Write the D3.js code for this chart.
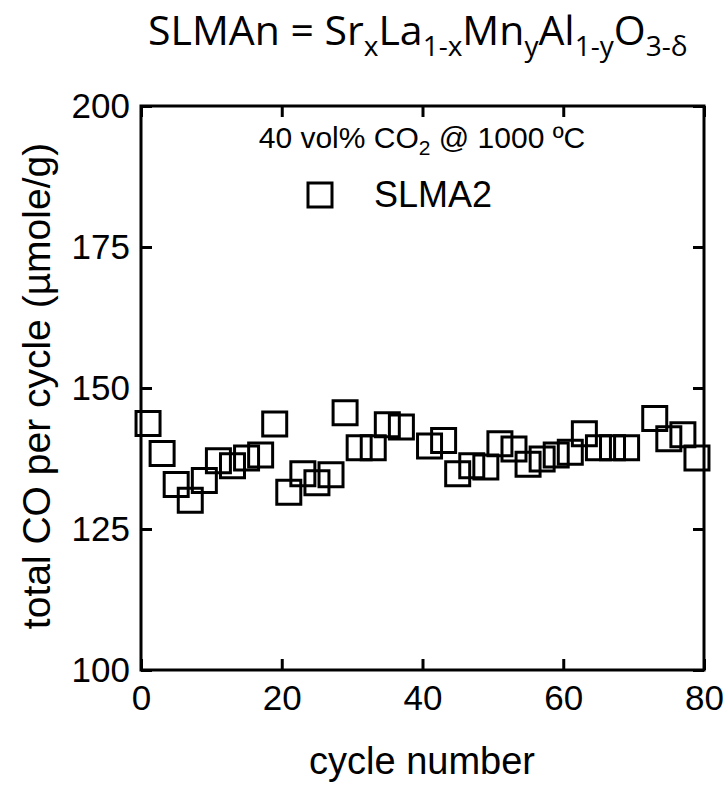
<!DOCTYPE html>
<html>
<head>
<meta charset="utf-8">
<script src="https://cdn.jsdelivr.net/npm/d3@7"></script>
<style>
  body { margin: 0; background: #fff; }
  text { fill: #000; }
</style>
</head>
<body>
<svg id="chart" width="725" height="786"></svg>
<script>
// cycle number vs total CO produced per cycle (umole/g), SLMA2
var cycles = [1, 3, 5, 7, 9, 11, 13, 15, 17, 19, 21, 23, 25, 27, 29, 31, 33, 35, 37,
              41, 43, 45, 47, 49, 51, 53, 55, 57, 59, 61, 63, 65, 67, 69, 73, 75, 77, 79];
var totalCO = [143.7, 138.4, 132.9, 130.1, 133.6, 137.1, 136.2, 137.6, 138.1, 143.6,
               131.5, 134.8, 133.2, 134.6, 145.6, 139.4, 139.4, 143.5, 143.1,
               139.7, 140.7, 134.8, 136.2, 136.0, 140.1, 139.2, 136.5, 137.4, 138.1,
               138.6, 141.9, 139.4, 139.4, 139.4, 144.6, 141.0, 141.7, 137.6];
var xTicks = [0, 20, 40, 60, 80];
var yTicks = [100, 125, 150, 175, 200];

var svg = d3.select("#chart");
// plot frame (window.top is read-only, so no bare "top" here)
var frame = { l: 141, r: 704, t: 106, b: 670 };

var x = d3.scaleLinear().domain([0, 80]).range([frame.l, frame.r]);
var y = d3.scaleLinear().domain([100, 200]).range([frame.b, frame.t]);

var arial = "'Liberation Sans', Arial, sans-serif";

// axes, ticks pointing inward on all four sides
function styleAxis(g) {
  g.select(".domain").remove();
  g.selectAll(".tick line").attr("stroke", "#000").attr("stroke-width", 3);
  g.selectAll(".tick text").attr("font-family", arial).attr("font-size", 35).attr("fill", "#000");
}

svg.append("g")
  .attr("transform", "translate(0," + frame.b + ")")
  .call(d3.axisBottom(x).tickValues(xTicks).tickSize(-11).tickPadding(15))
  .call(styleAxis);

svg.append("g")
  .attr("transform", "translate(0," + frame.t + ")")
  .call(d3.axisTop(x).tickValues(xTicks).tickSize(-11).tickFormat(""))
  .call(styleAxis);

svg.append("g")
  .attr("transform", "translate(" + frame.l + ",0)")
  .call(d3.axisLeft(y).tickValues(yTicks).tickSize(-11).tickPadding(11))
  .call(styleAxis);

svg.append("g")
  .attr("transform", "translate(" + frame.r + ",0)")
  .call(d3.axisRight(y).tickValues(yTicks).tickSize(-11).tickFormat(""))
  .call(styleAxis);

svg.append("rect")
  .attr("x", frame.l).attr("y", frame.t)
  .attr("width", frame.r - frame.l).attr("height", frame.b - frame.t)
  .attr("fill", "none").attr("stroke", "#000").attr("stroke-width", 3);

// data markers: open squares
var square = d3.symbol().type(d3.symbolSquare).size(24 * 24);
svg.append("g").selectAll("path")
  .data(cycles)
  .join("path")
  .attr("d", square)
  .attr("transform", function (d, i) { return "translate(" + x(d) + "," + y(totalCO[i]) + ")"; })
  .attr("fill", "none")
  .attr("stroke", "#000")
  .attr("stroke-width", 3);

// legend
svg.append("path")
  .attr("d", square)
  .attr("transform", "translate(320,195)")
  .attr("fill", "none").attr("stroke", "#000").attr("stroke-width", 3);
svg.append("text")
  .attr("x", 374).attr("y", 207)
  .attr("font-family", arial).attr("font-size", 36)
  .text("SLMA2");

// condition note
var note = svg.append("text")
  .attr("x", 422).attr("y", 148)
  .attr("text-anchor", "middle")
  .attr("font-family", arial).attr("font-size", 30);
note.append("tspan").text("40 vol% CO");
note.append("tspan").attr("font-size", 21).attr("dy", 7).text("2");
note.append("tspan").attr("dy", -7).text(" @ 1000 ºC");

// axis titles
svg.append("text")
  .attr("x", 422).attr("y", 774)
  .attr("text-anchor", "middle")
  .attr("font-family", arial).attr("font-size", 38)
  .text("cycle number");

svg.append("text")
  .attr("transform", "translate(50,386) rotate(-90)")
  .attr("text-anchor", "middle")
  .attr("font-family", arial).attr("font-size", 39)
  .text("total CO per cycle (µmole/g)");

// formula title
var title = svg.append("text")
  .attr("x", 148).attr("y", 45)
  .attr("font-family", "'Open Sans', 'Noto Sans', sans-serif")
  .attr("font-size", 41);
var parts = [["SLMAn = Sr", false], ["x", true], ["La", false], ["1-x", true],
             ["Mn", false], ["y", true], ["Al", false], ["1-y", true],
             ["O", false], ["3-δ", true]];
var wasSub = false;
parts.forEach(function (p) {
  var t = title.append("tspan").text(p[0]);
  if (p[1]) { t.attr("font-size", 28); if (!wasSub) t.attr("dy", 11); }
  else if (wasSub) t.attr("dy", -11);
  wasSub = p[1];
});
</script>
</body>
</html>
